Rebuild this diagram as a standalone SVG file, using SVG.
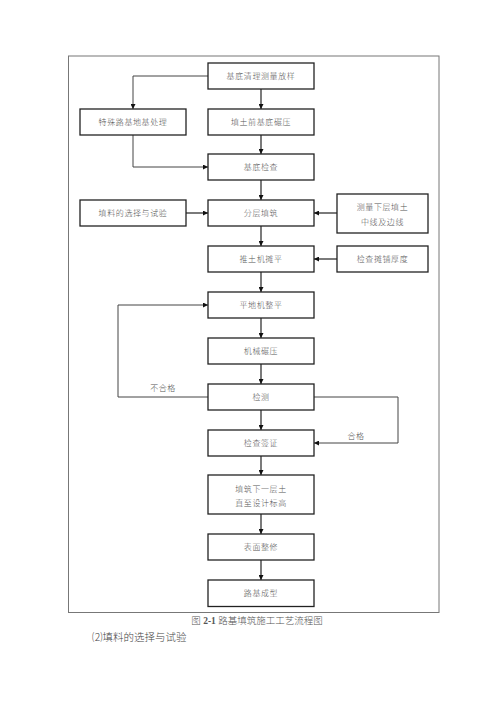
<svg xmlns="http://www.w3.org/2000/svg" width="500" height="707" viewBox="0 0 500 707">
<style>
.box{fill:#fff;stroke:#222;stroke-width:1.3}
.t{font-family:"Noto Sans CJK SC","Noto Sans CJK JP",sans-serif;font-size:8px;font-weight:300;fill:#555;text-anchor:middle;letter-spacing:0.6px}
.c{fill:none;stroke:#222;stroke-width:1.2}
.l{fill:none;stroke:#444;stroke-width:1}
.lab{font-family:"Noto Sans CJK SC",sans-serif;font-size:8px;font-weight:300;fill:#555;text-anchor:middle;letter-spacing:0.5px}
</style>
<defs>
<marker id="a" viewBox="0 0 10 10" refX="10" refY="5" markerWidth="5" markerHeight="5" orient="auto" markerUnits="userSpaceOnUse">
<path d="M0,0 L10,5 L0,10 z" fill="#111"/>
</marker>
</defs>
<rect width="500" height="707" fill="#fff"/>
<rect x="68.5" y="56" width="370.5" height="556.5" fill="none" stroke="#777" stroke-width="1"/>

<g id="connectors">
<line class="c" x1="261" y1="89" x2="261" y2="109" marker-end="url(#a)"/>
<line class="c" x1="261" y1="135" x2="261" y2="154" marker-end="url(#a)"/>
<line class="c" x1="261" y1="180" x2="261" y2="200" marker-end="url(#a)"/>
<line class="c" x1="261" y1="226" x2="261" y2="246" marker-end="url(#a)"/>
<line class="c" x1="261" y1="272" x2="261" y2="292" marker-end="url(#a)"/>
<line class="c" x1="261" y1="318" x2="261" y2="338" marker-end="url(#a)"/>
<line class="c" x1="261" y1="364" x2="261" y2="384" marker-end="url(#a)"/>
<line class="c" x1="261" y1="410" x2="261" y2="430" marker-end="url(#a)"/>
<line class="c" x1="261" y1="456" x2="261" y2="475" marker-end="url(#a)"/>
<line class="c" x1="261" y1="514" x2="261" y2="534" marker-end="url(#a)"/>
<line class="c" x1="261" y1="560" x2="261" y2="580" marker-end="url(#a)"/>
<polyline class="l" points="208,76 133,76 133,109" marker-end="url(#a)"/>
<polyline class="l" points="133,135 133,167 208,167" marker-end="url(#a)"/>
<line class="c" x1="186" y1="213" x2="208" y2="213" marker-end="url(#a)"/>
<line class="c" x1="337" y1="213" x2="314" y2="213" marker-end="url(#a)"/>
<line class="c" x1="337" y1="259" x2="314" y2="259" marker-end="url(#a)"/>
<polyline class="l" points="208,397 118,397 118,305 208,305" marker-end="url(#a)"/>
<polyline class="l" points="314,397 398,397 398,443 314,443" marker-end="url(#a)"/>
<text class="lab" x="163" y="391">不合格</text>
<text class="lab" x="356" y="439">合格</text>
</g>

<g id="n1"><rect class="box" x="208" y="63" width="106" height="26"/><text class="t" x="261" y="79">基底清理测量放样</text></g>
<g id="n2"><rect class="box" x="80" y="109" width="106" height="26"/><text class="t" x="133" y="125">特殊路基地基处理</text></g>
<g id="n3"><rect class="box" x="208" y="109" width="106" height="26"/><text class="t" x="261" y="125">填土前基底碾压</text></g>
<g id="n4"><rect class="box" x="208" y="154" width="106" height="26"/><text class="t" x="261" y="170">基底检查</text></g>
<g id="n5"><rect class="box" x="80" y="200" width="106" height="26"/><text class="t" x="133" y="216">填料的选择与试验</text></g>
<g id="n6"><rect class="box" x="208" y="200" width="106" height="26"/><text class="t" x="261" y="216">分层填筑</text></g>
<g id="n7"><rect class="box" x="337" y="194" width="91" height="39"/><text class="t" x="382.5" y="209.5">测量下层填土</text><text class="t" x="382.5" y="224.5">中线及边线</text></g>
<g id="n8"><rect class="box" x="208" y="246" width="106" height="26"/><text class="t" x="261" y="262">推土机摊平</text></g>
<g id="n9"><rect class="box" x="337" y="246" width="91" height="26"/><text class="t" x="382.5" y="262">检查摊铺厚度</text></g>
<g id="n10"><rect class="box" x="208" y="292" width="106" height="26"/><text class="t" x="261" y="308">平地机整平</text></g>
<g id="n11"><rect class="box" x="208" y="338" width="106" height="26"/><text class="t" x="261" y="354">机械碾压</text></g>
<g id="n12"><rect class="box" x="208" y="384" width="106" height="26"/><text class="t" x="261" y="400">检测</text></g>
<g id="n13"><rect class="box" x="208" y="430" width="106" height="26"/><text class="t" x="261" y="446">检查签证</text></g>
<g id="n14"><rect class="box" x="208" y="475" width="106" height="39"/><text class="t" x="261" y="492">填筑下一层土</text><text class="t" x="261" y="506">直至设计标高</text></g>
<g id="n15"><rect class="box" x="208" y="534" width="106" height="26"/><text class="t" x="261" y="550">表面整修</text></g>
<g id="n16"><rect class="box" x="208" y="580" width="106" height="26.5"/><text class="t" x="261" y="596">路基成型</text></g>

<text x="257" y="624" font-family="'Liberation Serif','Noto Sans CJK SC',serif" font-size="9.5" font-weight="300" fill="#555" text-anchor="middle">图 <tspan font-weight="bold">2-1</tspan> 路基填筑施工工艺流程图</text>
<text x="92" y="641" font-family="'Liberation Serif','Noto Sans CJK SC',serif" font-size="10.5" font-weight="300" fill="#444">⑵填料的选择与试验</text>
</svg>
